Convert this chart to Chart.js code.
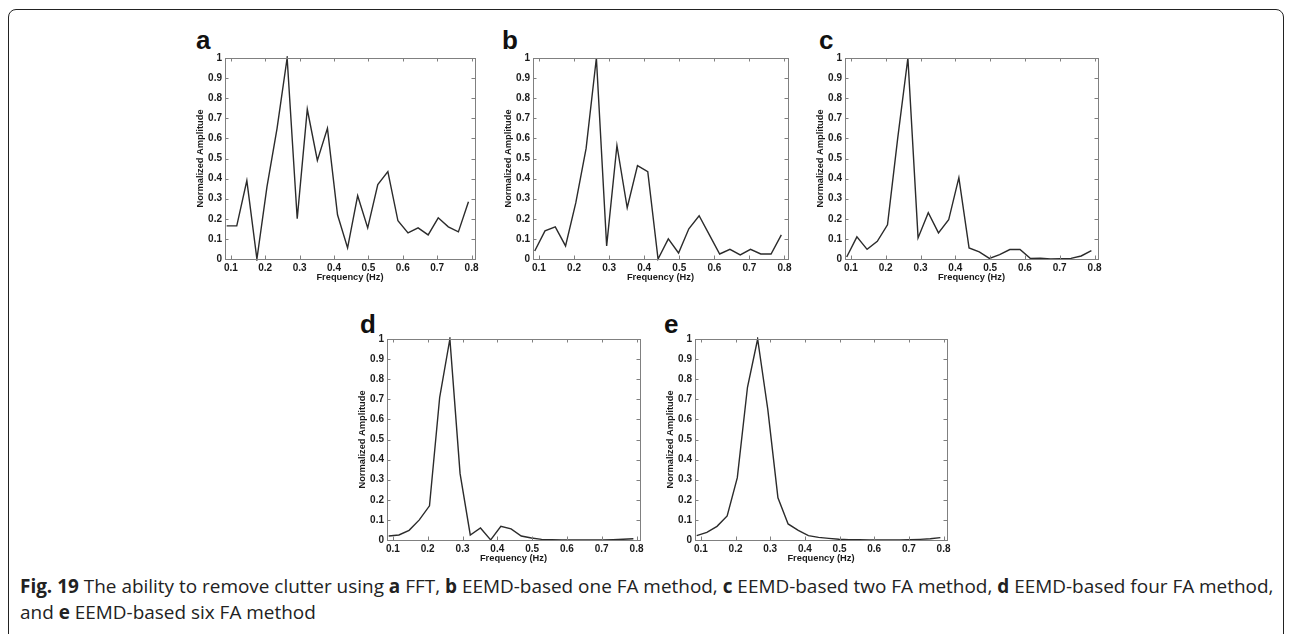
<!DOCTYPE html>
<html>
<head>
<meta charset="utf-8">
<script src="https://cdn.jsdelivr.net/npm/chart.js@4.4.1/dist/chart.umd.min.js"></script>
<style>
  html, body { margin: 0; padding: 0; background: #fff; }
  #page { position: relative; width: 1292px; height: 634px; overflow: hidden; background: #fff; }
  #frame {
    position: absolute; left: 8px; top: 9px; width: 1274px; height: 700px;
    border: 1.5px solid #222; border-radius: 8px;
  }
  .panel { position: absolute; }
  .tag { position: absolute; font: bold 26px "Liberation Sans", Arial, sans-serif; color: #111; line-height: 1; }
  #caption {
    position: absolute; left: 20px; top: 573px; white-space: nowrap;
    font: 18.95px "Open Sans", sans-serif; line-height: 26px; color: #222;
  }
  #caption b { font-weight: 700; }
</style>
</head>
<body>
<div id="page">
  <div id="frame"></div>

  <div class="tag" style="left:196px; top:27px;">a</div>
  <div class="tag" style="left:502px; top:27px;">b</div>
  <div class="tag" style="left:819px; top:27px;">c</div>
  <div class="tag" style="left:360px; top:311px;">d</div>
  <div class="tag" style="left:664px; top:311px;">e</div>

  <canvas id="chartA" class="panel"></canvas>
  <canvas id="chartB" class="panel"></canvas>
  <canvas id="chartC" class="panel"></canvas>
  <canvas id="chartD" class="panel"></canvas>
  <canvas id="chartE" class="panel"></canvas>

  <div id="caption"><b>Fig. 19</b> The ability to remove clutter using <b>a</b> FFT, <b>b</b> EEMD-based one FA method, <b>c</b> EEMD-based two FA method, <b>d</b> EEMD-based four FA method,<br>and <b>e</b> EEMD-based six FA method</div>
</div>

<script>
// ---- data ----
const freqHz = [0.0879, 0.1172, 0.1465, 0.1758, 0.2051, 0.2344, 0.2637, 0.2930, 0.3223, 0.3516,
                0.3809, 0.4102, 0.4395, 0.4688, 0.4980, 0.5273, 0.5566, 0.5859, 0.6152, 0.6445,
                0.6738, 0.7031, 0.7324, 0.7617, 0.7910];

const ampFFT    = [0.165, 0.165, 0.39, 0.0, 0.36, 0.65, 1.0, 0.2, 0.745, 0.49,
                   0.65, 0.22, 0.055, 0.315, 0.155, 0.37, 0.435, 0.19, 0.13, 0.155,
                   0.12, 0.205, 0.16, 0.135, 0.285];
const ampOneFA  = [0.04, 0.14, 0.16, 0.065, 0.28, 0.55, 1.0, 0.065, 0.565, 0.255,
                   0.465, 0.435, 0.0, 0.10, 0.03, 0.15, 0.215, 0.12, 0.025, 0.048,
                   0.02, 0.048, 0.025, 0.025, 0.12];
const ampTwoFA  = [0.01, 0.11, 0.048, 0.088, 0.17, 0.6, 1.0, 0.105, 0.23, 0.13,
                   0.195, 0.405, 0.055, 0.035, 0.003, 0.022, 0.047, 0.047, 0.003, 0.004,
                   0.0, 0.002, 0.003, 0.015, 0.042];
const ampFourFA = [0.02, 0.025, 0.048, 0.1, 0.17, 0.71, 1.0, 0.33, 0.025, 0.06,
                   0.0, 0.068, 0.055, 0.02, 0.01, 0.003, 0.001, 0.0, 0.0, 0.0,
                   0.0, 0.0, 0.002, 0.004, 0.006];
const ampSixFA  = [0.022, 0.038, 0.068, 0.12, 0.31, 0.76, 1.0, 0.65, 0.21, 0.08,
                   0.048, 0.022, 0.013, 0.008, 0.004, 0.002, 0.001, 0.0, 0.0, 0.0,
                   0.0, 0.001, 0.003, 0.006, 0.012];

const xTickVals = [0.1, 0.2, 0.3, 0.4, 0.5, 0.6, 0.7, 0.8];
const yTickVals = [0, 0.1, 0.2, 0.3, 0.4, 0.5, 0.6, 0.7, 0.8, 0.9, 1];

const X_TITLE = 'Frequency (Hz)';
const Y_TITLE = 'Normalized Amplitude';

// layout around each plot box
const AXW = 30;   // room for y labels + title
const AXH = 24;   // room for x labels + title
const PADT = 9;
const PADR = 12;
const BOX_COLOR = '#808080';

// matlab-like frame: full box + inward ticks on all four sides
const matlabBox = {
  id: 'matlabBox',
  afterDraw(chart) {
    const { ctx, chartArea: a, scales } = chart;
    const tl = 3.5;
    ctx.save();
    ctx.strokeStyle = BOX_COLOR;
    ctx.lineWidth = 1;
    ctx.beginPath();
    scales.x.ticks.forEach(t => {
      const px = Math.round(scales.x.getPixelForValue(t.value)) + 0.5;
      ctx.moveTo(px, a.bottom); ctx.lineTo(px, a.bottom - tl);
      ctx.moveTo(px, a.top);    ctx.lineTo(px, a.top + tl);
    });
    scales.y.ticks.forEach(t => {
      const py = Math.round(scales.y.getPixelForValue(t.value)) + 0.5;
      ctx.moveTo(a.left, py);  ctx.lineTo(a.left + tl, py);
      ctx.moveTo(a.right, py); ctx.lineTo(a.right - tl, py);
    });
    ctx.stroke();
    ctx.strokeRect(Math.round(a.left) + 0.5, Math.round(a.top) + 0.5,
                   Math.round(a.right - a.left), Math.round(a.bottom - a.top));
    ctx.restore();
  }
};

function makePanel(id, values, box) {
  const cv = document.getElementById(id);
  const w = AXW + box.w + PADR;
  const h = PADT + box.h + AXH;
  cv.width = w; cv.height = h;
  cv.style.left = (box.left - AXW) + 'px';
  cv.style.top = (box.top - PADT) + 'px';
  cv.style.width = w + 'px';
  cv.style.height = h + 'px';

  const tickFont = { family: '"Liberation Sans", Arial, sans-serif', size: 10, weight: 'bold' };
  const titleFont = { family: '"Liberation Sans", Arial, sans-serif', size: 9.3, weight: 'bold' };

  return new Chart(cv, {
    type: 'line',
    data: {
      datasets: [{
        data: freqHz.map((f, i) => ({ x: f, y: values[i] })),
        borderColor: '#2b2b2b',
        borderWidth: 1.4,
        pointRadius: 0,
        tension: 0,
        fill: false,
        clip: 2
      }]
    },
    options: {
      responsive: false,
      animation: false,
      events: [],
      layout: { padding: { top: PADT, right: PADR, left: 0, bottom: 0 } },
      plugins: { legend: { display: false }, tooltip: { enabled: false } },
      scales: {
        x: {
          type: 'linear',
          min: 0.083,
          max: 0.81,
          afterBuildTicks: s => { s.ticks = xTickVals.map(v => ({ value: v })); },
          afterFit: s => { s.height = AXH; },
          grid: { display: false, drawTicks: false },
          border: { display: false },
          ticks: {
            padding: 3,
            color: '#1a1a1a',
            font: tickFont,
            maxRotation: 0,
            autoSkip: false,
            callback: v => String(Math.round(v * 10) / 10)
          },
          title: { display: true, text: X_TITLE, color: '#1a1a1a', font: titleFont, padding: 0 }
        },
        y: {
          min: 0,
          max: 1,
          afterBuildTicks: s => { s.ticks = yTickVals.map(v => ({ value: v })); },
          afterFit: s => { s.width = AXW; },
          grid: { display: false, drawTicks: false },
          border: { display: false },
          ticks: {
            padding: 3,
            color: '#1a1a1a',
            font: tickFont,
            autoSkip: false,
            callback: v => String(Math.round(v * 10) / 10)
          },
          title: { display: true, text: Y_TITLE, color: '#1a1a1a', font: titleFont, padding: 0 }
        }
      }
    },
    plugins: [matlabBox]
  });
}

makePanel('chartA', ampFFT,    { left: 225, top: 58,  w: 250, h: 201 });
makePanel('chartB', ampOneFA,  { left: 533, top: 58,  w: 255, h: 201 });
makePanel('chartC', ampTwoFA,  { left: 845, top: 58,  w: 253, h: 201 });
makePanel('chartD', ampFourFA, { left: 387, top: 339, w: 253, h: 201 });
makePanel('chartE', ampSixFA,  { left: 695, top: 339, w: 252, h: 201 });
</script>
</body>
</html>
